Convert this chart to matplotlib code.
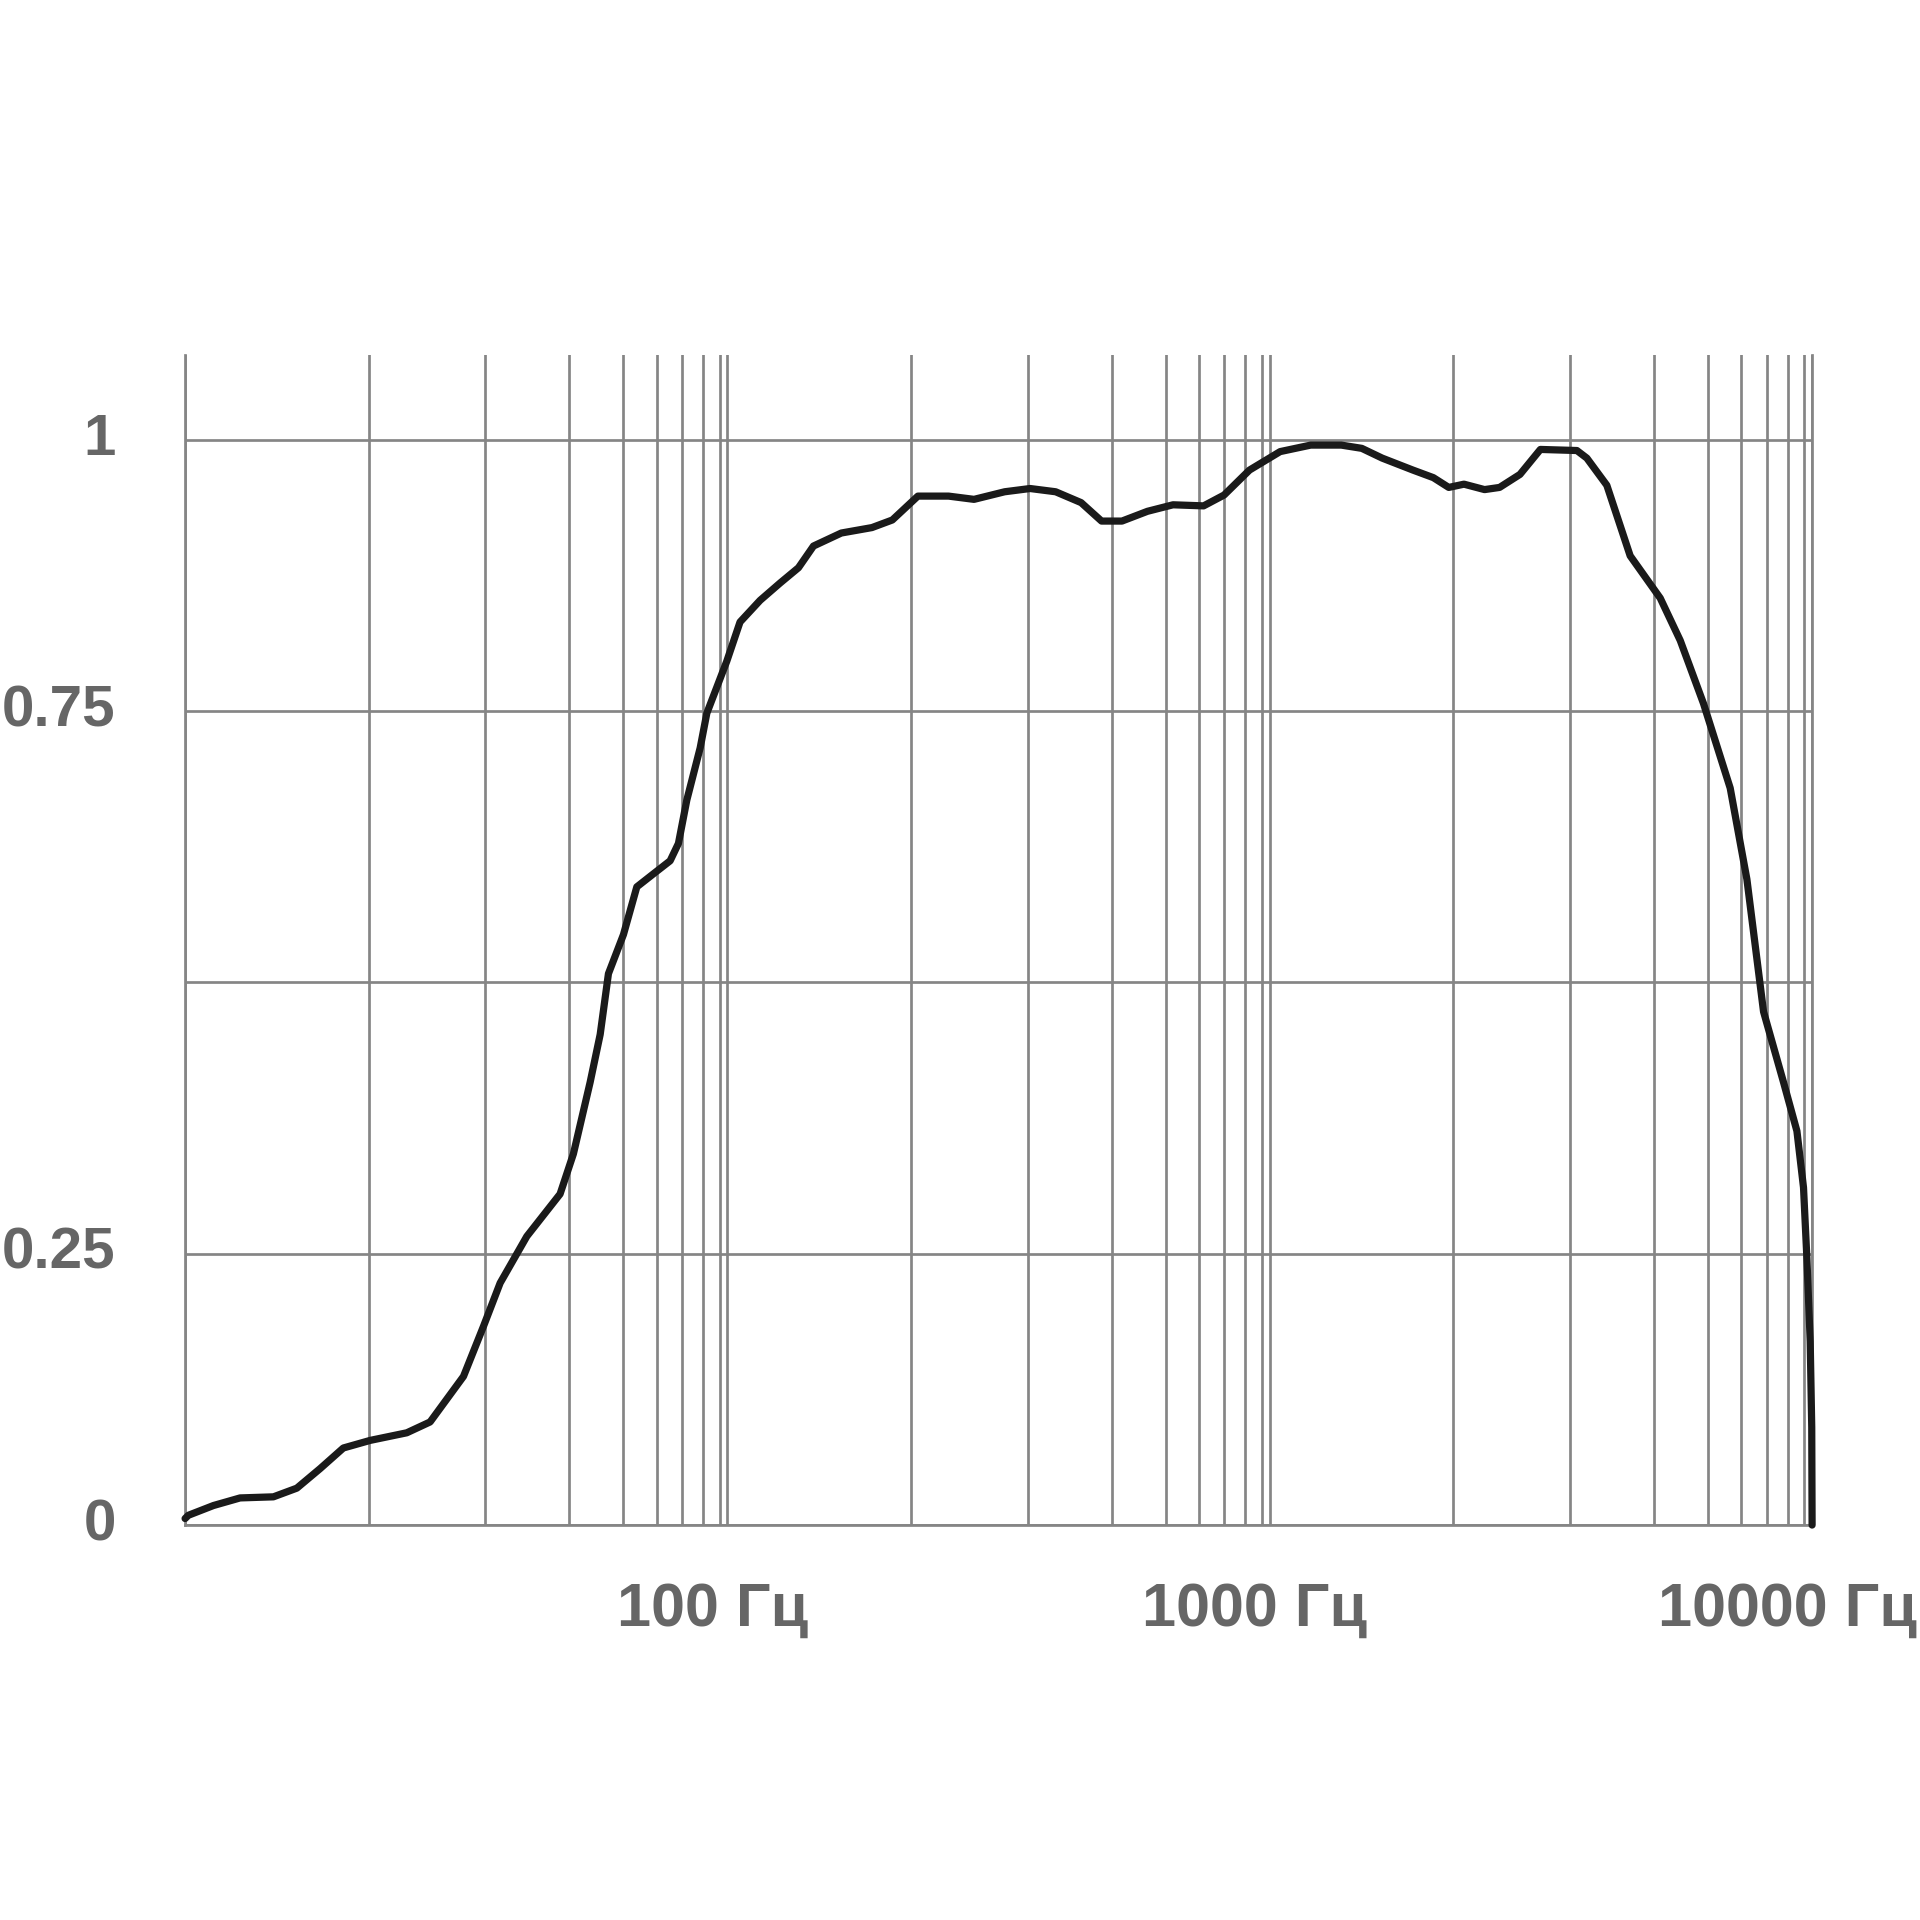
import matplotlib
matplotlib.use("Agg")
import matplotlib.pyplot as plt
from matplotlib.ticker import NullFormatter
from matplotlib.transforms import ScaledTranslation

# frequency response
freq = [10, 10.14, 11.28, 12.63, 14.55, 16.07, 17.74, 19.58, 21.94, 25.63, 28.3,
        32.61, 35.49, 38.1, 42.67, 49.14, 52.0, 55.83, 58.26, 60.34, 64.31,
        68.07, 73.04, 78.41, 81.22, 84.17, 89.07, 91.63, 99.75, 105.5, 114.9,
        125.1, 135.2, 144.1, 162.2, 184.7, 201.4, 224.5, 255.7, 284.9, 324.5,
        361.5, 402.9, 448.9, 489.6, 533.9, 595.0, 663.2, 755.1, 823.7, 917.6,
        1045, 1190, 1355, 1478, 1612, 1836, 2003, 2138, 2281, 2489, 2653, 2893,
        3155, 3684, 3843, 4183, 4619, 5248, 5713, 6305, 7063, 7582, 8137, 8857,
        9376, 9642, 9781, 9920, 9985, 10000]
level = [0.006, 0.009, 0.018, 0.025, 0.026, 0.034, 0.052, 0.071, 0.078, 0.085, 0.095,
         0.137, 0.183, 0.223, 0.266, 0.305, 0.342, 0.408, 0.452, 0.508, 0.544,
         0.588, 0.600, 0.612, 0.628, 0.668, 0.716, 0.748, 0.796, 0.832, 0.852,
         0.868, 0.882, 0.902, 0.914, 0.919, 0.926, 0.948, 0.948, 0.945, 0.952,
         0.955, 0.952, 0.942, 0.925, 0.925, 0.934, 0.940, 0.939, 0.949, 0.972,
         0.989, 0.995, 0.995, 0.992, 0.983, 0.972, 0.965, 0.956, 0.959, 0.954, 0.956, 0.968,
         0.991, 0.990, 0.983, 0.958, 0.893, 0.854, 0.815, 0.757, 0.679, 0.595, 0.473, 0.408,
         0.363, 0.311, 0.246, 0.169, 0.09, 0.0]

major_x = [10, 100, 1000, 10000]
major_labels = ['', '100 Гц', '1000 Гц', '10000 Гц']
# the grid in the picture is not at 2..9, these are where its lines sit
grid_mult = [2.18, 3.58, 5.11, 6.43, 7.40, 8.24, 9.02, 9.67]
minor_x = [m * d for d in (10, 100, 1000) for m in grid_mult]

y_ticks = [0, 0.25, 0.5, 0.75, 1]
y_labels = ['0', '0.25', '', '0.75', '1']

grey = '#858585'
text_grey = '#666666'

fig = plt.figure(figsize=(19.2, 19.2), dpi=100)
ax = fig.add_axes([0.0964, 0.2057, 0.9438 - 0.0964, 0.8151 - 0.2057])

ax.plot(freq, level, color='#1a1a1a', lw=5.2, solid_joinstyle='round',
        solid_capstyle='round', zorder=3, clip_on=False)

ax.set_xscale('log')
ax.set_xlim(10, 10000)
ax.set_ylim(0, 1.078)

ax.set_xticks(major_x)
ax.set_xticklabels(major_labels)
ax.set_xticks(minor_x, minor=True)
ax.xaxis.set_minor_formatter(NullFormatter())
ax.set_yticks(y_ticks)
ax.set_yticklabels(y_labels)

ax.grid(True, which='both', axis='x', color=grey, lw=1.95)
ax.grid(True, which='major', axis='y', color=grey, lw=1.95)
ax.set_axisbelow(True)

for s in ['left', 'right', 'bottom']:
    ax.spines[s].set_color(grey)
    ax.spines[s].set_linewidth(1.95)
ax.spines['top'].set_visible(False)

ax.tick_params(which='both', length=0)
ax.tick_params(axis='y', pad=50, labelsize=42, labelcolor=text_grey)
ax.tick_params(axis='x', pad=41, labelsize=44, labelcolor=text_grey)

for lab in ax.get_yticklabels():
    lab.set_fontfamily('Liberation Sans')
    lab.set_fontweight('bold')
    lab.set_transform(lab.get_transform() + ScaledTranslation(0, 0.06, fig.dpi_scale_trans))

x_shift = [0, -0.15, -0.15, -0.25]
for lab, dx in zip(ax.get_xticklabels(), x_shift):
    lab.set_fontfamily('Liberation Sans')
    lab.set_fontweight('bold')
    lab.set_transform(lab.get_transform() + ScaledTranslation(dx, 0, fig.dpi_scale_trans))

plt.savefig('out.png', dpi=100, facecolor='white')
